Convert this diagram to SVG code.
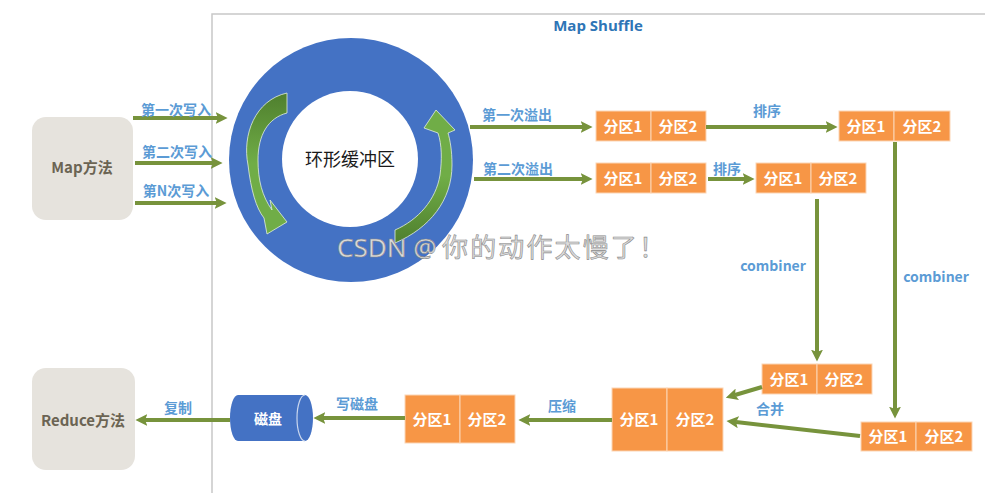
<svg xmlns="http://www.w3.org/2000/svg" width="998" height="493" viewBox="0 0 998 493">
<style>
.lbl{font-family:"Noto Sans CJK SC","Noto Sans",sans-serif;font-size:14px;font-weight:bold;fill:#5b9bd5;text-anchor:middle}
.pt{font-family:"Noto Sans CJK SC","Noto Sans",sans-serif;font-size:15px;font-weight:bold;fill:#ffffff;text-anchor:middle}
.pbox{fill:#f79646;stroke:#fbd5b5;stroke-width:1}
.meth{fill:#e6e3dd}
.mt{font-family:"Noto Sans CJK SC","Noto Sans",sans-serif;font-size:15px;font-weight:bold;fill:#6b6453;text-anchor:middle}
.conn line{stroke:#77933c;stroke-width:4;fill:none}
.wm{font-family:"Noto Sans","Noto Sans CJK SC",sans-serif;font-size:26px;fill:#dcdcdc;stroke:#8a8a8a;stroke-width:0.6}
</style>
<defs>
<marker id="ah" viewBox="0 0 10 10" refX="2" refY="5" markerWidth="12" markerHeight="12" markerUnits="userSpaceOnUse" orient="auto">
<path d="M0,0 L10,5 L0,10 L2,5 Z" fill="#77933c"/>
</marker>
<linearGradient id="gl" x1="0" y1="0" x2="0" y2="1">
<stop offset="0" stop-color="#4f7f2e"/><stop offset="0.5" stop-color="#70ad47"/><stop offset="1" stop-color="#70ad47"/>
</linearGradient>
<linearGradient id="gr" x1="0" y1="1" x2="0" y2="0">
<stop offset="0" stop-color="#4f7f2e"/><stop offset="0.5" stop-color="#70ad47"/><stop offset="1" stop-color="#70ad47"/>
</linearGradient>
</defs>
<rect width="998" height="493" fill="#ffffff"/>
<!-- frame -->
<path d="M212,493 L212,14 L985,14" fill="none" stroke="#c8c8c8" stroke-width="1.5"/>
<text x="598" y="31" style="font-family:'Open Sans','Noto Sans',sans-serif;font-size:15px;font-weight:bold;fill:#2e75b6;text-anchor:middle">Map Shuffle</text>

<g id="map">
<rect class="meth" x="32" y="117" width="101" height="103" rx="14"/>
<text class="mt" x="82" y="173">Map方法</text>
</g>
<g id="reduce">
<rect class="meth" x="32" y="368" width="103" height="102" rx="14"/>
<text class="mt" x="83" y="426">Reduce方法</text>
</g>

<g id="ring">
<circle cx="351" cy="160" r="122" fill="#4472c4"/>
<circle cx="350" cy="159" r="68" fill="#ffffff"/>
<path d="M287,93 C255,100 242,135 248,165 C251,190 256,208 264,218 L267,234 L287,222 L270,200 L272,210 C262,196 258,180 258,160 C258,135 268,118 287,113 Z" fill="url(#gl)" stroke="#e2efda" stroke-width="0.8"/>
<path d="M395,243 C430,228 452,200 452,165 C452,150 450,140 448,133 L455,130 L436,110 L424,128 L438,133 C442,145 442,160 440,175 C436,200 418,220 395,230 Z" fill="url(#gr)" stroke="#e2efda" stroke-width="0.8"/>
<text x="350" y="166" style="font-family:'Noto Sans CJK SC',sans-serif;font-size:18px;fill:#1a1a1a;text-anchor:middle">环形缓冲区</text>
</g>

<g id="p1">
<rect class="pbox" x="596" y="111" width="55" height="30"/><rect class="pbox" x="651" y="111" width="55" height="30"/>
<text class="pt" x="623" y="132">分区1</text><text class="pt" x="678" y="132">分区2</text>
</g>
<g id="p1s">
<rect class="pbox" x="839" y="111" width="55" height="30"/><rect class="pbox" x="894" y="111" width="56" height="30"/>
<text class="pt" x="866" y="132">分区1</text><text class="pt" x="922" y="132">分区2</text>
</g>
<g id="p2">
<rect class="pbox" x="596" y="163" width="55" height="30"/><rect class="pbox" x="651" y="163" width="55" height="30"/>
<text class="pt" x="623" y="184">分区1</text><text class="pt" x="678" y="184">分区2</text>
</g>
<g id="p2s">
<rect class="pbox" x="756" y="163" width="55" height="30"/><rect class="pbox" x="811" y="163" width="55" height="30"/>
<text class="pt" x="783" y="184">分区1</text><text class="pt" x="838" y="184">分区2</text>
</g>
<g id="p2c">
<rect class="pbox" x="762" y="364" width="55" height="30"/><rect class="pbox" x="817" y="364" width="55" height="30"/>
<text class="pt" x="789" y="385">分区1</text><text class="pt" x="844" y="385">分区2</text>
</g>
<g id="p1c">
<rect class="pbox" x="861" y="422" width="55" height="29"/><rect class="pbox" x="916" y="422" width="56" height="29"/>
<text class="pt" x="888" y="442">分区1</text><text class="pt" x="944" y="442">分区2</text>
</g>
<g id="merged">
<rect class="pbox" x="612" y="388" width="55" height="63"/><rect class="pbox" x="667" y="388" width="56" height="63"/>
<text class="pt" x="639" y="425">分区1</text><text class="pt" x="695" y="425">分区2</text>
</g>
<g id="compressed">
<rect class="pbox" x="405" y="395" width="55" height="48"/><rect class="pbox" x="460" y="395" width="55" height="48"/>
<text class="pt" x="432" y="425">分区1</text><text class="pt" x="487" y="425">分区2</text>
</g>
<g id="disk">
<path d="M238,395 L305,395 A8,23 0 0 1 305,441 L238,441 A8,23 0 0 1 238,395 Z" fill="#4472c4"/>
<path d="M305,395 A8,23 0 0 0 305,441" fill="none" stroke="#c9d6ee" stroke-width="1.2"/>
<text x="268" y="424" style="font-family:'Noto Sans CJK SC',sans-serif;font-size:14px;font-weight:bold;fill:#ffffff;text-anchor:middle">磁盘</text>
</g>

<g id="connectors" class="conn">
<line x1="133" y1="118" x2="218" y2="118" marker-end="url(#ah)"/>
<line x1="135" y1="163" x2="213" y2="163" marker-end="url(#ah)"/>
<line x1="135" y1="203" x2="217" y2="203" marker-end="url(#ah)"/>
<line x1="470" y1="127" x2="583" y2="127" marker-end="url(#ah)"/>
<line x1="474" y1="179" x2="583" y2="179" marker-end="url(#ah)"/>
<line x1="706" y1="127" x2="828" y2="127" marker-end="url(#ah)"/>
<line x1="708" y1="179" x2="745" y2="179" marker-end="url(#ah)"/>
<line x1="817" y1="199" x2="817" y2="352" marker-end="url(#ah)"/>
<line x1="895" y1="142" x2="895" y2="409" marker-end="url(#ah)"/>
<line x1="762" y1="387" x2="735" y2="395" marker-end="url(#ah)"/>
<line x1="860" y1="436" x2="736" y2="422" marker-end="url(#ah)"/>
<line x1="612" y1="420" x2="528" y2="420" marker-end="url(#ah)"/>
<line x1="405" y1="418" x2="323" y2="418" marker-end="url(#ah)"/>
<line x1="230" y1="420" x2="145" y2="420" marker-end="url(#ah)"/>
</g>
<g id="labels">
<text class="lbl" x="176" y="115">第一次写入</text>
<text class="lbl" x="177" y="157">第二次写入</text>
<text class="lbl" x="176" y="196">第N次写入</text>
<text class="lbl" x="517" y="120">第一次溢出</text>
<text class="lbl" x="518" y="174">第二次溢出</text>
<text class="lbl" x="767" y="116">排序</text>
<text class="lbl" x="727" y="174">排序</text>
<text class="lbl" x="773" y="271">combiner</text>
<text class="lbl" x="936" y="282">combiner</text>
<text class="lbl" x="770" y="414">合并</text>
<text class="lbl" x="562" y="411">压缩</text>
<text class="lbl" x="357" y="409">写磁盘</text>
<text class="lbl" x="178" y="413">复制</text>
</g>
<text class="wm" x="337" y="257">CSDN @<tspan x="442" textLength="223" lengthAdjust="spacing">你的动作太慢了！</tspan></text>
</svg>
